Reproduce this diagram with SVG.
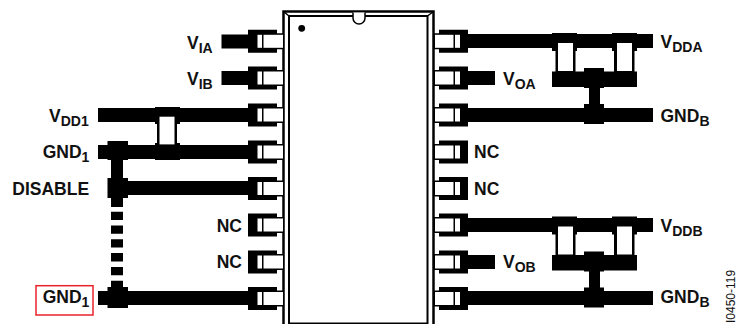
<svg xmlns="http://www.w3.org/2000/svg" width="737" height="324" viewBox="0 0 737 324">
<style>
text{font-family:"Liberation Sans",Arial,sans-serif;font-weight:bold;font-size:17.5px;fill:#111}
.s{font-size:14px}
.k{fill:#000}
.w{fill:#fff}
</style>
<defs>
<g id="pl"><path class="k" d="M248 -11.500H277V-8H283V8H277V11.500H248Z"/><rect class="w" x="257.500" y="-6.500" width="4.500" height="13"/><rect class="w" x="263.500" y="-6.500" width="19.500" height="13"/></g>
<g id="pr"><path class="k" d="M468 -11.500H439V-8H434V8H439V11.500H468Z"/><rect class="w" x="455" y="-6.500" width="5" height="13"/><rect class="w" x="435" y="-6.500" width="18.500" height="13"/></g>
<g id="bypass">
<rect class="k" x="552" y="33" width="25" height="18"/>
<rect class="k" x="612" y="33" width="25" height="18"/>
<rect class="k" x="555.500" y="43" width="20" height="30"/>
<rect class="k" x="614" y="43" width="20.500" height="30"/>
<rect class="k" x="552" y="71.500" width="85" height="15.500"/>
<rect class="k" x="584" y="68" width="20" height="20"/>
<rect class="k" x="589" y="86" width="11" height="20"/>
<rect class="k" x="584" y="104" width="20" height="20"/>
<rect class="w" x="558" y="43" width="15" height="28"/>
<rect class="w" x="617" y="43" width="15" height="28"/>
</g>
</defs>
<g id="connectors">
<rect class="k" x="221.500" y="34.500" width="30" height="14"/>
<rect class="k" x="221.500" y="71" width="30" height="14"/>
<rect class="k" x="98" y="108" width="153" height="14"/>
<rect class="k" x="98" y="145" width="153" height="14"/>
<rect class="k" x="115" y="181" width="136" height="14"/>
<rect class="k" x="98" y="291" width="153" height="14"/>
<path d="M117 150V207M117 211.700V220M117 225.500V233.800M117 239.300V247.600M117 253.100V261.400M117 266.900V275.200M117 280.700V292" stroke="#000" stroke-width="12" fill="none"/>
<rect class="k" x="466" y="34" width="187" height="14"/>
<rect class="k" x="466" y="71" width="29" height="14"/>
<rect class="k" x="466" y="108" width="187" height="14"/>
<rect class="k" x="466" y="218" width="187" height="14"/>
<rect class="k" x="466" y="255" width="29" height="14"/>
<rect class="k" x="466" y="291" width="187" height="14"/>
</g>
<g id="c1">
<rect class="k" x="155" y="107" width="25" height="17"/>
<rect class="k" x="155" y="143" width="25" height="17"/>
<rect class="k" x="157" y="116" width="20" height="30"/>
<rect class="w" x="159.500" y="116.700" width="15" height="27.700"/>
</g>
<g id="j1">
<rect class="k" x="107.500" y="141" width="20.500" height="19"/>
<rect class="k" x="107.500" y="178" width="20.500" height="20"/>
<rect class="k" x="107.500" y="287" width="20.500" height="21"/>
</g>
<use id="bypassA" href="#bypass"/>
<use id="bypassB" href="#bypass" y="183.500"/>
<g id="ic">
<rect x="283.500" y="11.500" width="150" height="325" fill="#fff" stroke="#000" stroke-width="2.500"/>
<rect x="289" y="16" width="138.500" height="307.500" fill="#fff" stroke="#000" stroke-width="2"/>
<path d="M283.500 11.500L289 16M433.500 11.500L427.500 16" stroke="#000" stroke-width="1.500"/>
<path d="M353 12.500V18A6 6 0 0 0 365 18V12.500" fill="#fff" stroke="#000" stroke-width="1.500"/>
<circle cx="301.700" cy="28.300" r="3.400" fill="#000"/>
</g>
<g id="pins">
<use href="#pl" y="41.300"/><use href="#pl" y="78"/><use href="#pl" y="115"/><use href="#pl" y="152"/><use href="#pl" y="188.500"/><use href="#pl" y="225"/><use href="#pl" y="262"/><use href="#pl" y="298.500"/>
<use href="#pr" y="41.300"/><use href="#pr" y="78"/><use href="#pr" y="115"/><use href="#pr" y="152"/><use href="#pr" y="188.500"/><use href="#pr" y="225"/><use href="#pr" y="262"/><use href="#pr" y="298.500"/>
</g>
<g id="labels">
<text x="187" y="48.500">V<tspan class="s" dy="4">IA</tspan></text>
<text x="187" y="85">V<tspan class="s" dy="4">IB</tspan></text>
<text x="49" y="121.700">V<tspan class="s" dy="4">DD1</tspan></text>
<text x="42.700" y="158">GND<tspan class="s" dy="4">1</tspan></text>
<text x="12.300" y="195">DISABLE</text>
<text x="216.700" y="231.700">NC</text>
<text x="216.700" y="267.500">NC</text>
<text x="42.700" y="303.300">GND<tspan class="s" dy="4">1</tspan></text>
<text x="660.500" y="48">V<tspan class="s" dy="4">DDA</tspan></text>
<text x="503" y="85">V<tspan class="s" dy="4">OA</tspan></text>
<text x="660.500" y="121.700">GND<tspan class="s" dy="4">B</tspan></text>
<text x="474" y="158">NC</text>
<text x="474" y="195">NC</text>
<text x="660.500" y="231.700">V<tspan class="s" dy="4">DDB</tspan></text>
<text x="503" y="268">V<tspan class="s" dy="4">OB</tspan></text>
<text x="660.500" y="303.300">GND<tspan class="s" dy="4">B</tspan></text>
<text transform="translate(735 323) rotate(-90)" style="font-size:12px;font-weight:normal">I0450-119</text>
</g>
<rect id="highlight" x="36" y="285.700" width="57" height="29.300" fill="none" stroke="#e8232a" stroke-width="1.500"/>
</svg>
